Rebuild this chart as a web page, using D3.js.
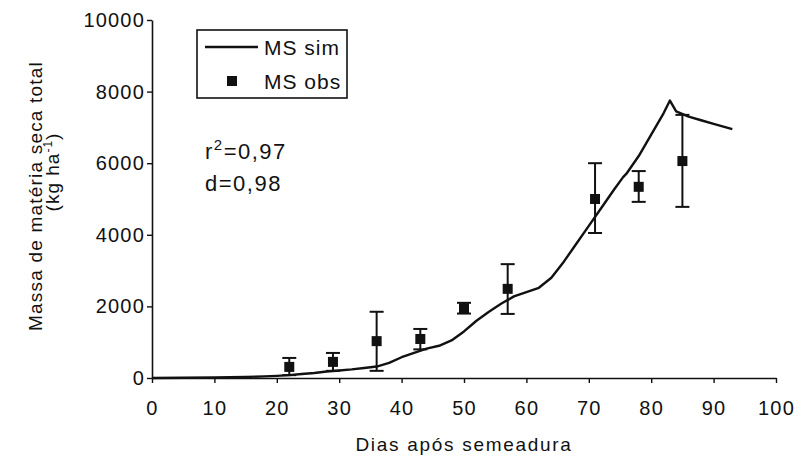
<!DOCTYPE html>
<html>
<head>
<meta charset="utf-8">
<script src="https://cdn.jsdelivr.net/npm/d3@7"></script>
<style>
  body { margin: 0; background: #fff; }
  svg text { font-family: "Liberation Sans", Arial, sans-serif; fill: #111; }
</style>
</head>
<body>
<svg id="chart" width="801" height="459"></svg>
<script>
// simulated dry matter (line)
var simDays = [0, 5, 10, 15, 18, 20, 22, 24, 26, 28, 30, 32, 34, 36, 38, 40, 42, 44, 46, 48,
  50, 52, 54, 56, 58, 60, 62, 64, 66, 68, 70, 72, 74, 75.5, 76, 78, 80, 82, 83, 84, 86, 88, 90, 93];
var simMS = [0, 5, 15, 30, 45, 60, 80, 110, 140, 180, 210, 240, 280, 320, 420, 580, 700, 820, 900, 1050,
  1300, 1600, 1850, 2080, 2280, 2400, 2520, 2800, 3250, 3750, 4250, 4750, 5250, 5610, 5700, 6200, 6800, 7400, 7750, 7450, 7300, 7200, 7100, 6950];

// observed dry matter with error bars
var obsDays = [22, 29, 36, 43, 50, 57, 71, 78, 85];
var obsMS = [310, 450, 1030, 1090, 1950, 2490, 5000, 5340, 6060];
var obsLow = [80, 200, 200, 800, 1800, 1790, 4050, 4920, 4780];
var obsHigh = [560, 700, 1850, 1370, 2100, 3180, 6000, 5780, 7350];

var xTicks = [0, 10, 20, 30, 40, 50, 60, 70, 80, 90, 100];
var yTicks = [0, 2000, 4000, 6000, 8000, 10000];

var svg = d3.select('#chart');
var x = d3.scaleLinear().domain([0, 100]).range([152, 776]);
var y = d3.scaleLinear().domain([0, 10000]).range([378, 20]);

// axes
var xAxis = svg.append('g')
  .attr('transform', 'translate(0,' + y(0) + ')')
  .call(d3.axisBottom(x).tickValues(xTicks).tickSize(5).tickPadding(18).tickSizeOuter(0));
var yAxis = svg.append('g')
  .attr('transform', 'translate(' + x(0) + ',0)')
  .call(d3.axisLeft(y).tickValues(yTicks).tickFormat(d3.format('d')).tickSize(5).tickPadding(2).tickSizeOuter(0));

[xAxis, yAxis].forEach(function(g) {
  g.select('.domain').attr('stroke', '#111').attr('stroke-width', 1.6);
  g.selectAll('.tick line').attr('stroke', '#111').attr('stroke-width', 1.4);
  g.selectAll('.tick text')
    .attr('font-size', 20)
    .attr('letter-spacing', 1.2)
    .attr('font-family', '"Liberation Sans", Arial, sans-serif')
    .attr('fill', '#111');
});

// simulated line
var line = d3.line()
  .x(function(d, i) { return x(simDays[i]); })
  .y(function(d) { return y(d); });
svg.append('path')
  .datum(simMS)
  .attr('d', line)
  .attr('fill', 'none')
  .attr('stroke', '#111')
  .attr('stroke-width', 2.4)
  .attr('stroke-linejoin', 'round');

// error bars + markers
var obs = obsDays.map(function(d, i) {
  return { day: d, ms: obsMS[i], lo: obsLow[i], hi: obsHigh[i] };
});
var gObs = svg.append('g');
gObs.selectAll('.err')
  .data(obs).enter().append('line')
  .attr('x1', function(d) { return x(d.day); })
  .attr('x2', function(d) { return x(d.day); })
  .attr('y1', function(d) { return y(d.lo); })
  .attr('y2', function(d) { return y(d.hi); })
  .attr('stroke', '#111').attr('stroke-width', 2);
['lo', 'hi'].forEach(function(k) {
  gObs.selectAll('.cap-' + k)
    .data(obs).enter().append('line')
    .attr('x1', function(d) { return x(d.day) - 7; })
    .attr('x2', function(d) { return x(d.day) + 7; })
    .attr('y1', function(d) { return y(d[k]); })
    .attr('y2', function(d) { return y(d[k]); })
    .attr('stroke', '#111').attr('stroke-width', 2);
});
gObs.selectAll('rect')
  .data(obs).enter().append('rect')
  .attr('x', function(d) { return x(d.day) - 5; })
  .attr('y', function(d) { return y(d.ms) - 5; })
  .attr('width', 10).attr('height', 10)
  .attr('fill', '#111');

// legend
var leg = svg.append('g');
leg.append('rect')
  .attr('x', 197).attr('y', 30).attr('width', 150).attr('height', 68)
  .attr('fill', '#fff').attr('stroke', '#111').attr('stroke-width', 1.6);
leg.append('line')
  .attr('x1', 205).attr('x2', 258).attr('y1', 47).attr('y2', 47)
  .attr('stroke', '#111').attr('stroke-width', 2.4);
leg.append('text').attr('x', 264).attr('y', 55)
  .attr('font-size', 21).attr('letter-spacing', 1).text('MS sim');
leg.append('rect')
  .attr('x', 227).attr('y', 76).attr('width', 10).attr('height', 10)
  .attr('fill', '#111');
leg.append('text').attr('x', 264).attr('y', 89)
  .attr('font-size', 21).attr('letter-spacing', 1).text('MS obs');

// stats
var stats = svg.append('g').attr('font-size', 22);
var t1 = stats.append('text').attr('x', 205).attr('y', 159).attr('letter-spacing', 1.5);
t1.append('tspan').text('r');
t1.append('tspan').attr('dy', -9).attr('font-size', 15).text('2');
t1.append('tspan').attr('dy', 9).text('=0,97');
stats.append('text').attr('x', 205).attr('y', 191).attr('letter-spacing', 1.5).text('d=0,98');

// axis titles
svg.append('text')
  .attr('x', 464).attr('y', 451)
  .attr('text-anchor', 'middle')
  .attr('font-size', 19).attr('letter-spacing', 1.7)
  .text('Dias após semeadura');

var yl = svg.append('g').attr('font-size', 19).attr('text-anchor', 'middle');
yl.append('text')
  .attr('transform', 'translate(42,196) rotate(-90)')
  .attr('letter-spacing', 1.2)
  .text('Massa de matéria seca total');
var yl2 = yl.append('text')
  .attr('transform', 'translate(59,172) rotate(-90)')
  .attr('letter-spacing', 1);
yl2.append('tspan').text('(kg ha');
yl2.append('tspan').attr('dy', -7).attr('font-size', 12).text('-1');
yl2.append('tspan').attr('dy', 7).text(')');
</script>
</body>
</html>
